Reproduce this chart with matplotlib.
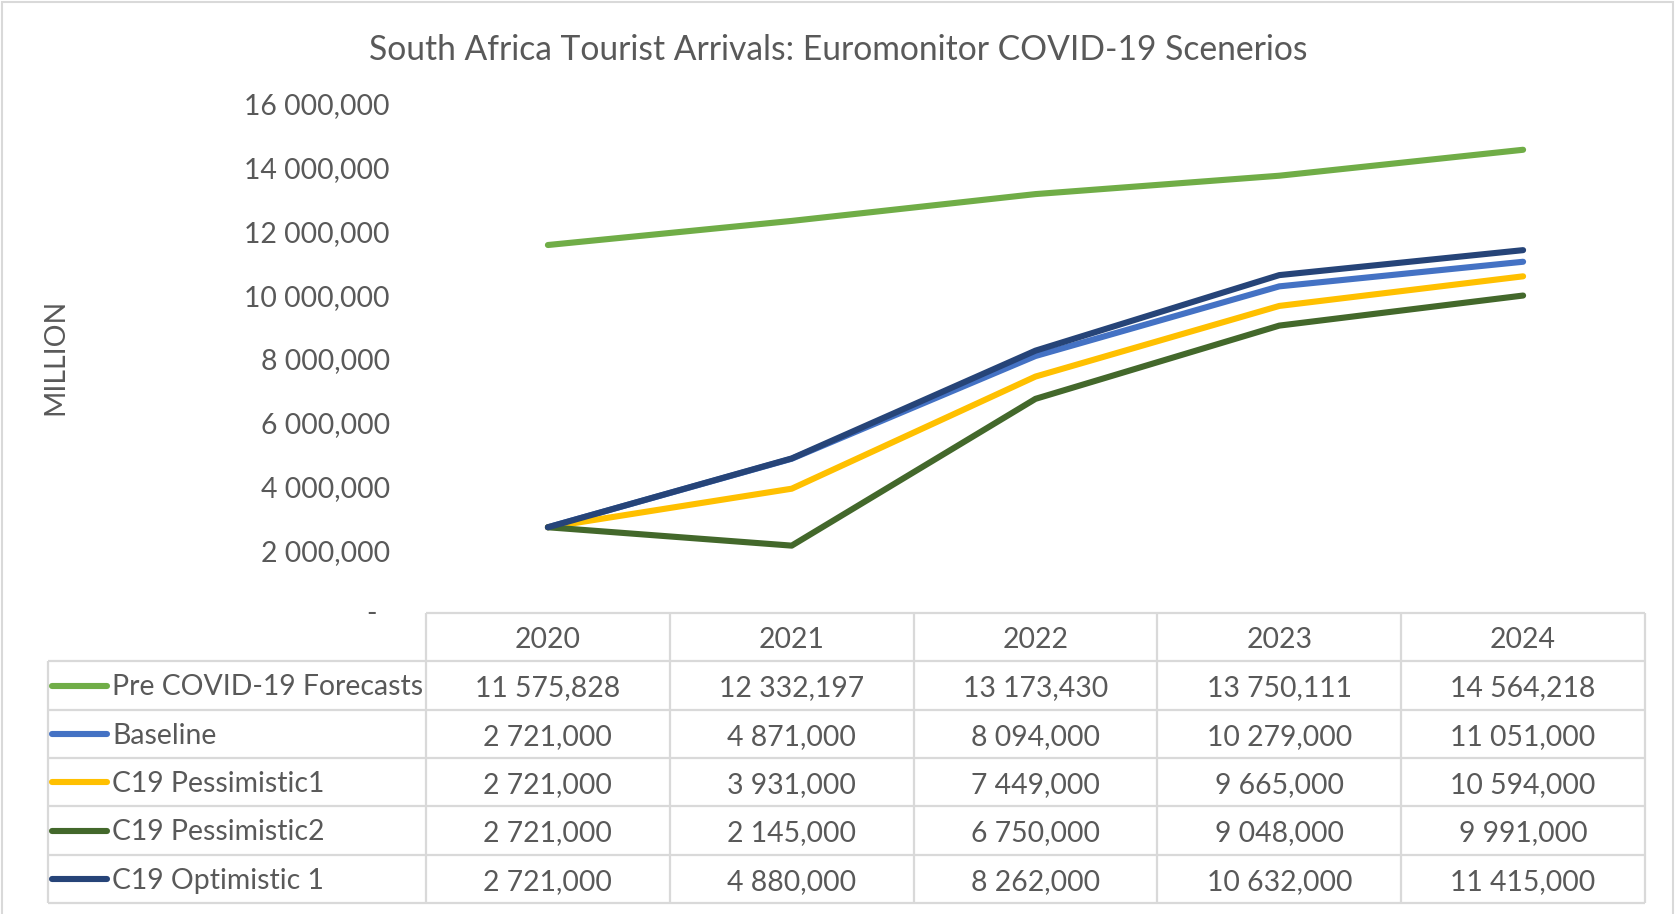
import matplotlib
matplotlib.use("Agg")
import matplotlib.pyplot as plt
from matplotlib.patches import Rectangle
import matplotlib.transforms as mtransforms

# ---- data ----
years = ["2020", "2021", "2022", "2023", "2024"]
series_names = ["Pre COVID-19 Forecasts", "Baseline", "C19 Pessimistic1",
                "C19 Pessimistic2", "C19 Optimistic 1"]
pre_covid = [11575828, 12332197, 13173430, 13750111, 14564218]
baseline = [2721000, 4871000, 8094000, 10279000, 11051000]
pessimistic1 = [2721000, 3931000, 7449000, 9665000, 10594000]
pessimistic2 = [2721000, 2145000, 6750000, 9048000, 9991000]
optimistic1 = [2721000, 4880000, 8262000, 10632000, 11415000]
series_colors = ["#70AD47", "#4472C4", "#FFC000", "#43682B", "#264478"]
ytick_values = [2e6, 4e6, 6e6, 8e6, 10e6, 12e6, 14e6, 16e6]
ytick_labels = ["2 000,000", "4 000,000", "6 000,000", "8 000,000",
                "10 000,000", "12 000,000", "14 000,000", "16 000,000"]
title = "South Africa Tourist Arrivals: Euromonitor COVID-19 Scenerios"
ylabel = "MILLION"

all_series = [pre_covid, baseline, pessimistic1, pessimistic2, optimistic1]

FONT = "Lato"
TXT = "#595959"
GRID = "#D9D9D9"
FS = 20.4

W, H = 1675, 914
fig = plt.figure(figsize=(W / 100, H / 100), dpi=100)
fig.patch.set_facecolor("white")

# outer border
fig.add_artist(Rectangle((2 / W, -0.01), (W - 4) / W, 1 - 2 / H + 0.01,
                         transform=fig.transFigure, fill=False,
                         edgecolor=GRID, linewidth=1.5))

# ---- main plot ----
ax_left, ax_right = 426, 1645
ax_top, ax_bottom = 104, 614
ax = fig.add_axes([ax_left / W, 1 - ax_bottom / H, (ax_right - ax_left) / W,
                   (ax_bottom - ax_top) / H])
x = list(range(len(years)))
for vals, col in zip(all_series, series_colors):
    ax.plot(x, vals, color=col, linewidth=4.4, solid_capstyle="round",
            solid_joinstyle="round", clip_on=False)
ax.set_xlim(-0.5, len(years) - 0.5)
ax.set_ylim(0, 16e6)
ax.set_yticks(ytick_values)
ax.set_yticklabels(ytick_labels, fontsize=FS, color=TXT, family=FONT)
ax.tick_params(axis="y", length=0, pad=26)
ax.set_xticks([])
for s in ax.spines.values():
    s.set_visible(False)
ax.patch.set_alpha(0)
trans = mtransforms.blended_transform_factory(ax.transAxes, ax.transData)
ax.text(-0.045, 0, "-", transform=trans, ha="center", va="center",
        fontsize=FS, color=TXT, family=FONT)

fig.text(838 / W, 1 - 50 / H, title, ha="center", va="center",
         fontsize=24.2, color=TXT, family=FONT)
fig.text(55 / W, 1 - 357 / H, ylabel, ha="center", va="center",
         rotation=90, fontsize=FS, color=TXT, family=FONT)

# ---- data table ----
tleft, tright, ttop, tbot = 48, 1645, 613, 903
colw = (ax_right - ax_left) / len(years)
xl = -0.5 - (ax_left - tleft) / colw
tax = fig.add_axes([tleft / W, 1 - tbot / H, (tright - tleft) / W,
                    (tbot - ttop) / H])
nrows = len(series_names) + 1
tax.set_xlim(xl, len(years) - 0.5)
tax.set_ylim(nrows, 0)
tax.axis("off")

lk = dict(color=GRID, linewidth=1.6, clip_on=False, solid_capstyle="butt")
# header
tax.plot([-0.5, len(years) - 0.5], [0, 0], **lk)
for r in range(1, nrows + 1):
    tax.plot([xl, len(years) - 0.5], [r, r], **lk)
tax.plot([xl, xl], [1, nrows], **lk)
for c in range(len(years) + 1):
    tax.plot([c - 0.5, c - 0.5], [0, nrows], **lk)

dy = 0.06
for c, yr in enumerate(years):
    tax.text(c, 0.5 + dy, yr, ha="center", va="center", fontsize=FS,
             color=TXT, family=FONT)


def fmt(v):
    s = f"{v:,}"
    return s.replace(",", " ", 1)


for r, (name, vals, col) in enumerate(zip(series_names, all_series,
                                          series_colors), start=1):
    yc = r + 0.5
    k0 = xl + 4 / colw
    k1 = xl + 59 / colw
    tax.plot([k0, k1], [yc, yc], color=col, linewidth=4.4,
             solid_capstyle="round", clip_on=False)
    tax.text(xl + 64 / colw, yc + dy * 0.6, name, ha="left", va="center",
             fontsize=FS, color=TXT, family=FONT)
    for c, v in enumerate(vals):
        tax.text(c, yc + dy, fmt(v), ha="center", va="center", fontsize=FS,
                 color=TXT, family=FONT)

fig.savefig("out.png", dpi=100, facecolor="white")
